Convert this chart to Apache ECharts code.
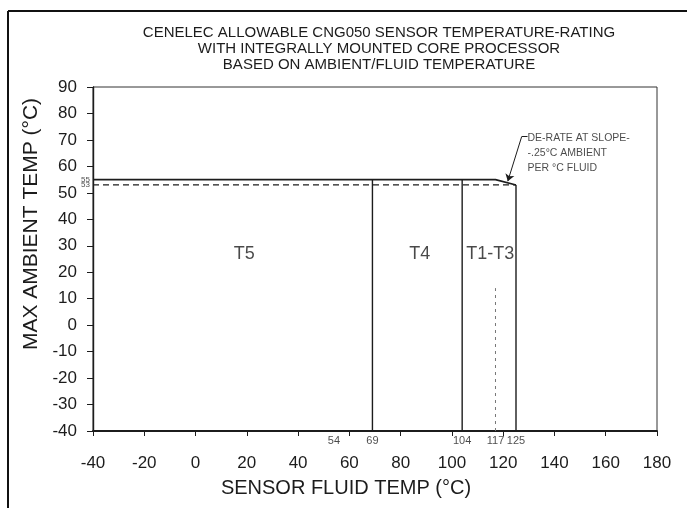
<!DOCTYPE html>
<html>
<head>
<meta charset="utf-8">
<script src="https://cdn.jsdelivr.net/npm/echarts@6/dist/echarts.min.js"></script>
<style>
html,body{margin:0;padding:0;background:#fff;}
#chart{width:687px;height:508px;}
</style>
</head>
<body>
<div id="chart"></div>
<script>
// ---- data ----
var titleLines = ['CENELEC ALLOWABLE CNG050 SENSOR TEMPERATURE-RATING',
                  'WITH INTEGRALLY MOUNTED CORE PROCESSOR',
                  'BASED ON AMBIENT/FLUID TEMPERATURE'];
var xName = 'SENSOR FLUID TEMP (°C)';
var yName = 'MAX AMBIENT TEMP (°C)';
var xMin = -40, xMax = 180, xStep = 20;
var yMin = -40, yMax = 90, yStep = 10;

// maximum ambient rating (solid), de-rated from 117 to 125
var ratingX = [-40, 117, 125];
var ratingY = [55, 55, 53];
// dashed 53 °C line
var dashedX = [-40, 125];
var dashedY = [53, 53];
// temperature class boundaries
var boundaryX = [69, 104, 125];
var boundaryTop = [55, 55, 53];
// dotted marker at 117
var dottedX = 117;
var dottedTop = 14;
// class zone labels
var zoneNames = ['T5', 'T4', 'T1-T3'];
var zoneX = [19, 87.5, 115];
var zoneY = [27, 27, 27];
// small labels under x axis
var subTickX = [54, 69, 104, 117, 125];
// small labels beside y axis
var subTickY = [55, 53];
// annotation
var noteText = ['DE-RATE AT SLOPE-', '-.25°C AMBIENT', 'PER °C FLUID'];
var noteAt = [129.5, 71.2];
var leaderFrom = [127.2, 71.2];
var leaderTo = [121.8, 54.4];

var INK = '#1c1c1c';
var FONT = 'Liberation Sans';

var series = [];
series.push({
  type: 'line', name: 'rating', symbol: 'none', silent: true,
  data: ratingX.map(function (x, i) { return [x, ratingY[i]]; }),
  lineStyle: { color: INK, width: 1.6 }
});
series.push({
  type: 'line', name: 'dashed', symbol: 'none', silent: true,
  data: dashedX.map(function (x, i) { return [x, dashedY[i]]; }),
  lineStyle: { color: INK, width: 1.2, type: [6, 4] }
});
boundaryX.forEach(function (x, i) {
  series.push({
    type: 'line', symbol: 'none', silent: true,
    data: [[x, yMin], [x, boundaryTop[i]]],
    lineStyle: { color: INK, width: 1.4 }
  });
});
series.push({
  type: 'line', symbol: 'none', silent: true,
  data: [[dottedX, yMin], [dottedX, dottedTop]],
  lineStyle: { color: '#777', width: 1, type: [3, 4] }
});
series.push({
  type: 'scatter', symbolSize: 0, silent: true,
  data: zoneNames.map(function (n, i) { return { value: [zoneX[i], zoneY[i]], name: n }; }),
  label: { show: true, position: 'inside', formatter: '{b}', color: INK,
           fontFamily: FONT, fontSize: 18 }
});
series.push({
  type: 'scatter', symbolSize: 0, silent: true,
  data: subTickX.map(function (x) { return { value: [x, yMin], name: String(x) }; }),
  label: { show: true, position: 'bottom', distance: 4, formatter: '{b}', color: INK,
           fontFamily: FONT, fontSize: 11 }
});
series.push({
  type: 'scatter', symbolSize: 0, silent: true,
  data: subTickY.map(function (y) { return { value: [xMin, y], name: String(y) }; }),
  label: { show: true, position: 'left', distance: 3, formatter: '{b}', color: INK,
           fontFamily: FONT, fontSize: 8 }
});
series.push({
  type: 'scatter', symbolSize: 0, silent: true,
  data: [{ value: noteAt, name: 'note' }],
  label: { show: true, position: [0, -6], align: 'left', verticalAlign: 'top',
           formatter: noteText.join('\n'), color: INK, fontFamily: FONT,
           fontSize: 10.5, lineHeight: 15 },
  markLine: {
    silent: true, animation: false,
    label: { show: false },
    lineStyle: { color: INK, width: 1, type: 'solid' },
    data: [
      [{ coord: noteAt, symbol: 'none' }, { coord: leaderFrom, symbol: 'none' }],
      [{ coord: leaderFrom, symbol: 'none' }, { coord: leaderTo, symbol: 'arrow', symbolSize: 7 }]
    ]
  }
});

var chart = echarts.init(document.getElementById('chart'), null, { renderer: 'canvas' });
chart.setOption({
  animation: false,
  backgroundColor: '#fff',
  title: {
    text: titleLines.join('\n'),
    left: 374, top: 20, textAlign: 'center',
    textStyle: { fontFamily: FONT, fontSize: 15, fontWeight: 'normal', color: INK, lineHeight: 16 }
  },
  graphic: [
    { type: 'line', shape: { x1: 8, y1: 11, x2: 687, y2: 11 }, style: { stroke: '#111', lineWidth: 2 } },
    { type: 'line', shape: { x1: 8, y1: 11, x2: 8, y2: 508 }, style: { stroke: '#111', lineWidth: 2 } }
  ],
  grid: {
    left: 93, right: 30, top: 87, bottom: 77,
    show: true, borderColor: '#333', borderWidth: 1, backgroundColor: 'transparent'
  },
  xAxis: {
    type: 'value', min: xMin, max: xMax, interval: xStep,
    name: xName, nameLocation: 'middle', nameGap: 47,
    nameTextStyle: { fontFamily: FONT, fontSize: 20, color: INK, padding: [0, 58, 0, 0] },
    axisLine: { show: true, onZero: false, lineStyle: { color: INK, width: 1.8 } },
    axisTick: { show: true, inside: false, length: 5, lineStyle: { color: INK, width: 1 } },
    axisLabel: { margin: 24, fontFamily: FONT, fontSize: 17, color: INK },
    splitLine: { show: false }
  },
  yAxis: {
    type: 'value', min: yMin, max: yMax, interval: yStep,
    name: yName, nameLocation: 'middle', nameGap: 48, nameRotate: 90,
    nameTextStyle: { fontFamily: FONT, fontSize: 21, color: INK, padding: [0, 0, 0, 70] },
    axisLine: { show: true, onZero: false, lineStyle: { color: INK, width: 1.4 } },
    axisTick: { show: true, inside: false, length: 6, lineStyle: { color: INK, width: 1 } },
    axisLabel: { margin: 16, fontFamily: FONT, fontSize: 17, color: INK },
    splitLine: { show: false }
  },
  series: series
});
</script>
</body>
</html>
